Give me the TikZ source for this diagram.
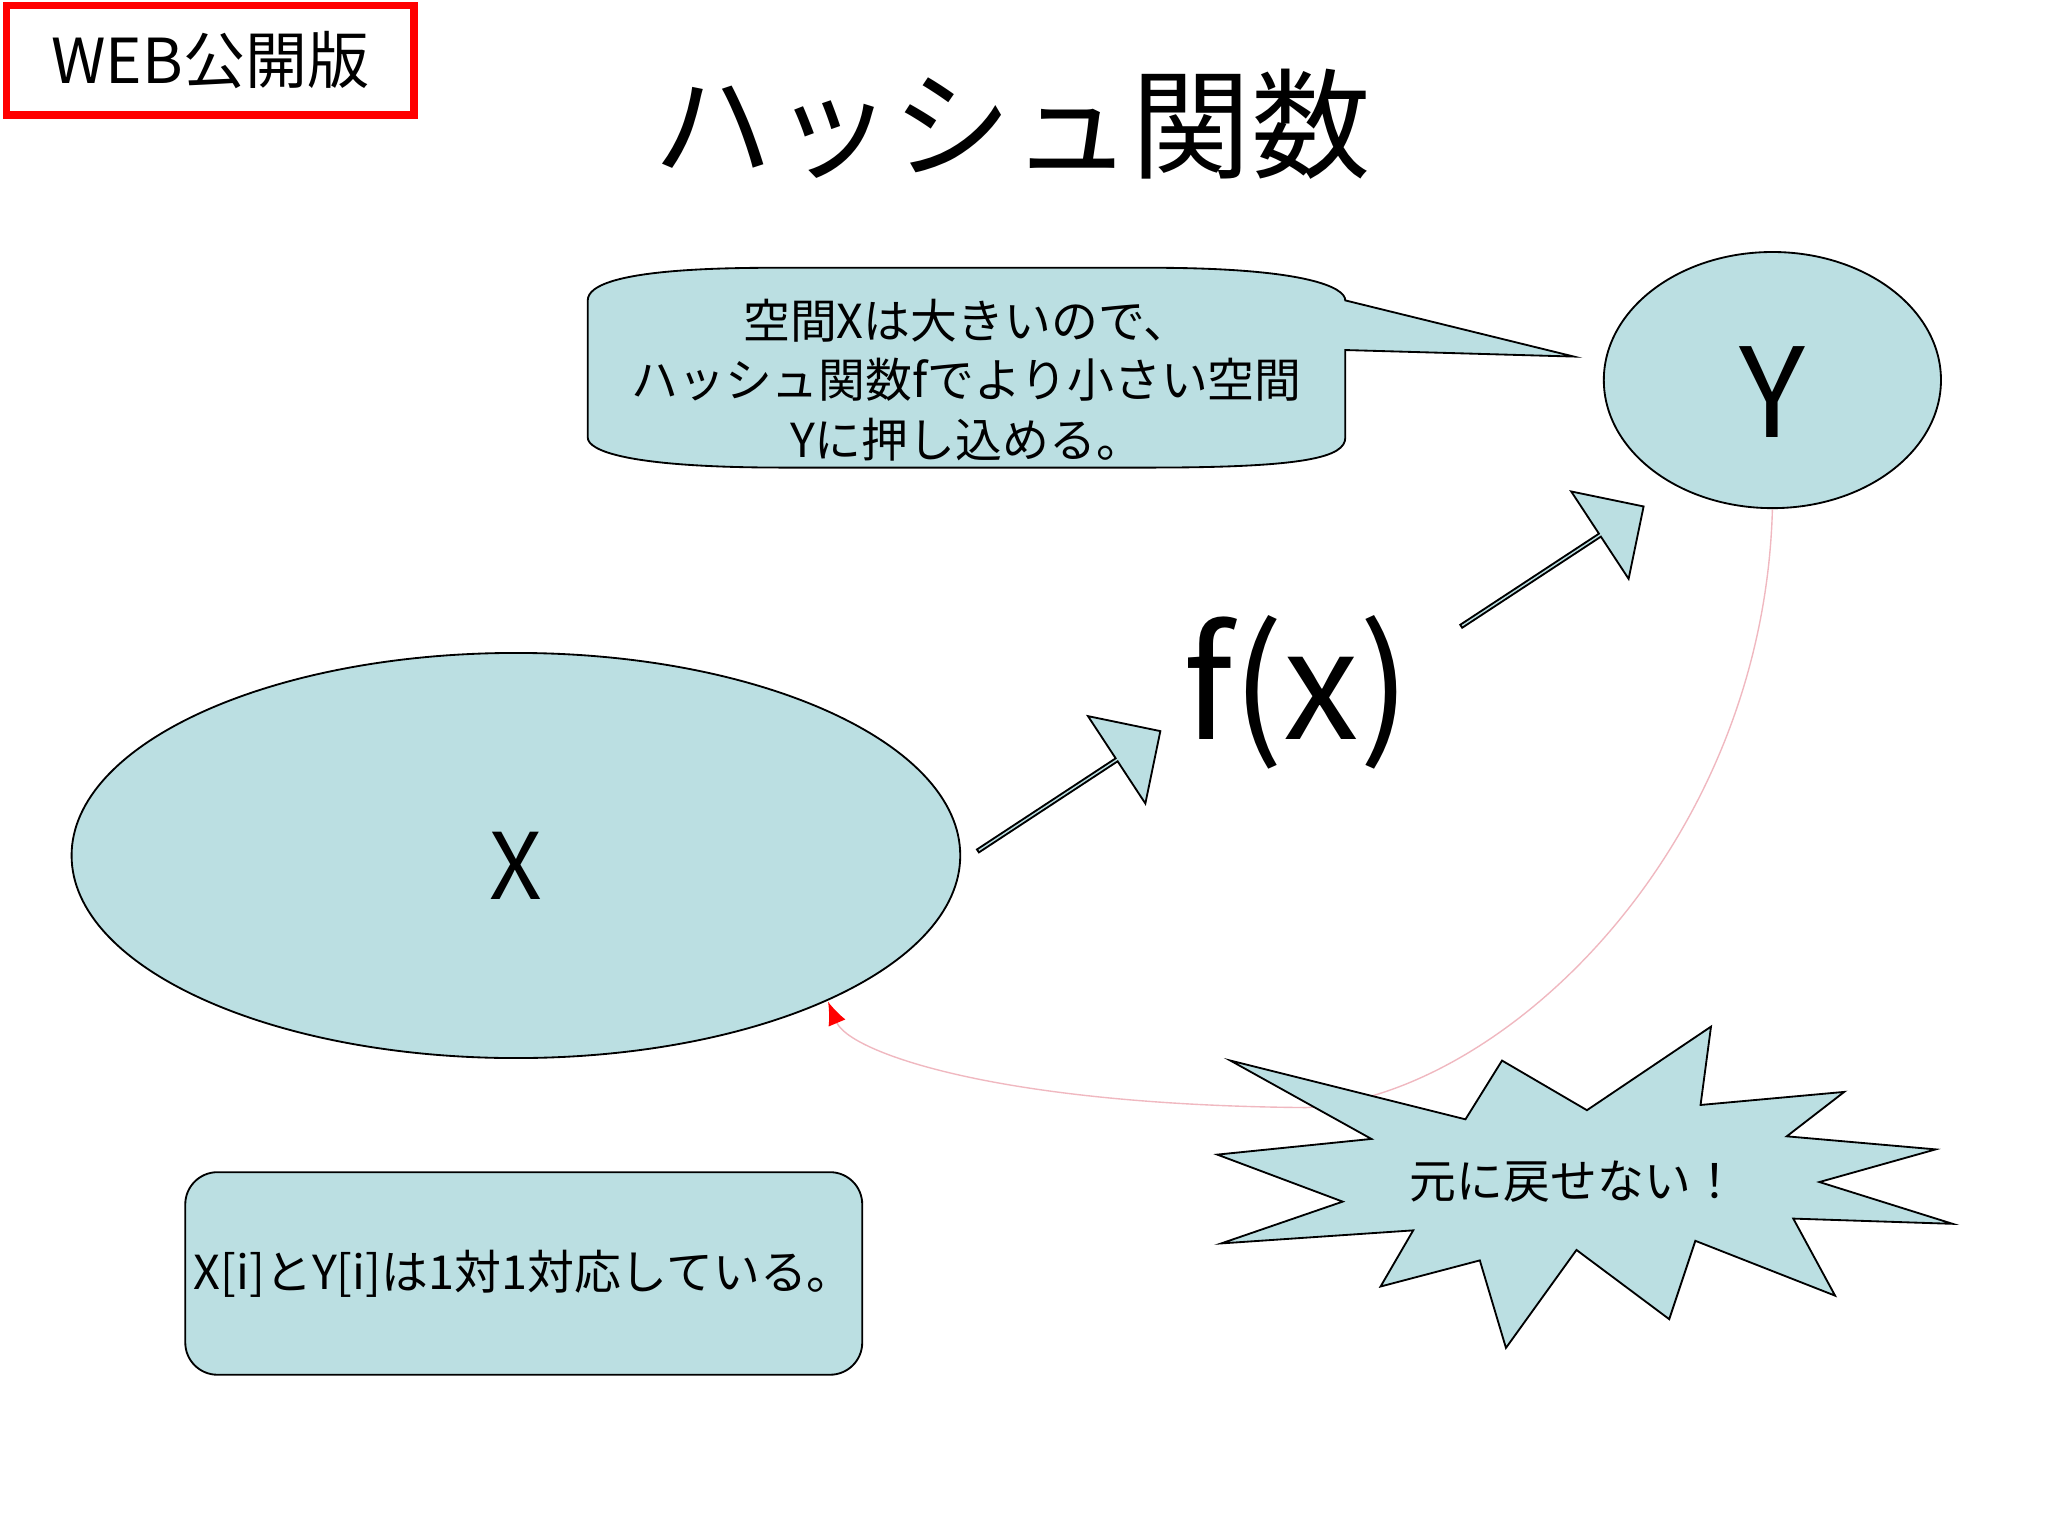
\documentclass[tikz,border=0pt]{standalone}
\usepackage{fontspec}
\setmainfont{Noto Sans CJK JP}
\usetikzlibrary{shapes.arrows,shapes.geometric,arrows.meta}
\definecolor{lb}{HTML}{BBDFE2}
\definecolor{pk}{HTML}{F0B8C0}
\tikzset{shp/.style={draw=black,fill=lb,line width=0.4pt},
 barrow/.style={shp,single arrow,minimum height=1.67cm,minimum width=0.8cm,single arrow head extend=0.2cm,inner sep=0pt,rotate=33.3}}
\begin{document}
\begin{tikzpicture}[x=0.01cm,y=-0.01cm]
\useasboundingbox[fill=white] (0,0) rectangle (1568,1176);
% WEB box
\node[draw=red,line width=1.6pt,minimum width=3.12cm,minimum height=0.84cm,inner sep=0pt,font=\fontsize{13.5}{14}\selectfont] (web) at (161,46) {WEB公開版};
\node[font=\fontsize{26}{28}\selectfont] (title) at (775,95) {ハッシュ関数};
% callout
\draw[shp] (450,230) .. controls (450,205) and (560,205) .. (600,205) -- (880,205)
 .. controls (1000,205) and (1030,220) .. (1030,230) -- (1205,273) -- (1030,268) -- (1030,335)
 .. controls (1030,350) and (1000,358) .. (880,358) -- (600,358) .. controls (480,358) and (450,345) .. (450,335) -- cycle;
\node[align=center,font=\fontsize{10.2}{13}\selectfont] (note) at (740,291) {空間Xは大きいので、\\ハッシュ関数fでより小さい空間\\Yに押し込める。};
% ellipses
\node[shp,ellipse,minimum width=2.58cm,minimum height=1.96cm,inner sep=0pt] (Y) at (1357,291) {};
\node[font=\fontsize{27}{28}\selectfont] at (1357,300) {Y};
\node[shp,ellipse,minimum width=6.8cm,minimum height=3.1cm,inner sep=0pt] (X) at (395,655) {};
\node[font=\fontsize{20}{22}\selectfont] at (395,663) {X};
% arrows
\node[barrow] (a1) at (818,606) {};
\node[barrow] (a2) at (1188,434) {};
\node[font=\fontsize{33}{34}\selectfont] (fx) at (993,530) {f(x)};
% curve
\coordinate (cs) at (1357,390);
\coordinate (ce) at (634,767);
\draw[pk,line width=0.3pt,-{Latex[red,length=5pt,width=4pt]}] (cs) .. controls (1350,650) and (1150,840) .. (1000,848) .. controls (760,846) and (650,805) .. (ce);
% star
\draw[shp] (942,812)--(1122,857)--(1150,812)--(1215,850)--(1310,786)--(1302,846)--(1412,836)--(1368,870)--(1482,880)--(1393,905)--(1495,937)--(1373,933)--(1405,992)--(1298,950)--(1278,1010)--(1207,957)--(1153,1032)--(1133,965)--(1057,985)--(1082,942)--(935,952)--(1028,920)--(932,884)--(1050,872)--cycle;
\node[font=\fontsize{10.2}{12}\selectfont] (star) at (1205,905) {元に戻せない！};
% bottom box
\node[shp,rounded corners=7pt,minimum width=5.18cm,minimum height=1.55cm,inner sep=0pt,font=\fontsize{10.2}{12}\selectfont] (box) at (401,975) {X[i]とY[i]は1対1対応している。};
\end{tikzpicture}
\end{document}
